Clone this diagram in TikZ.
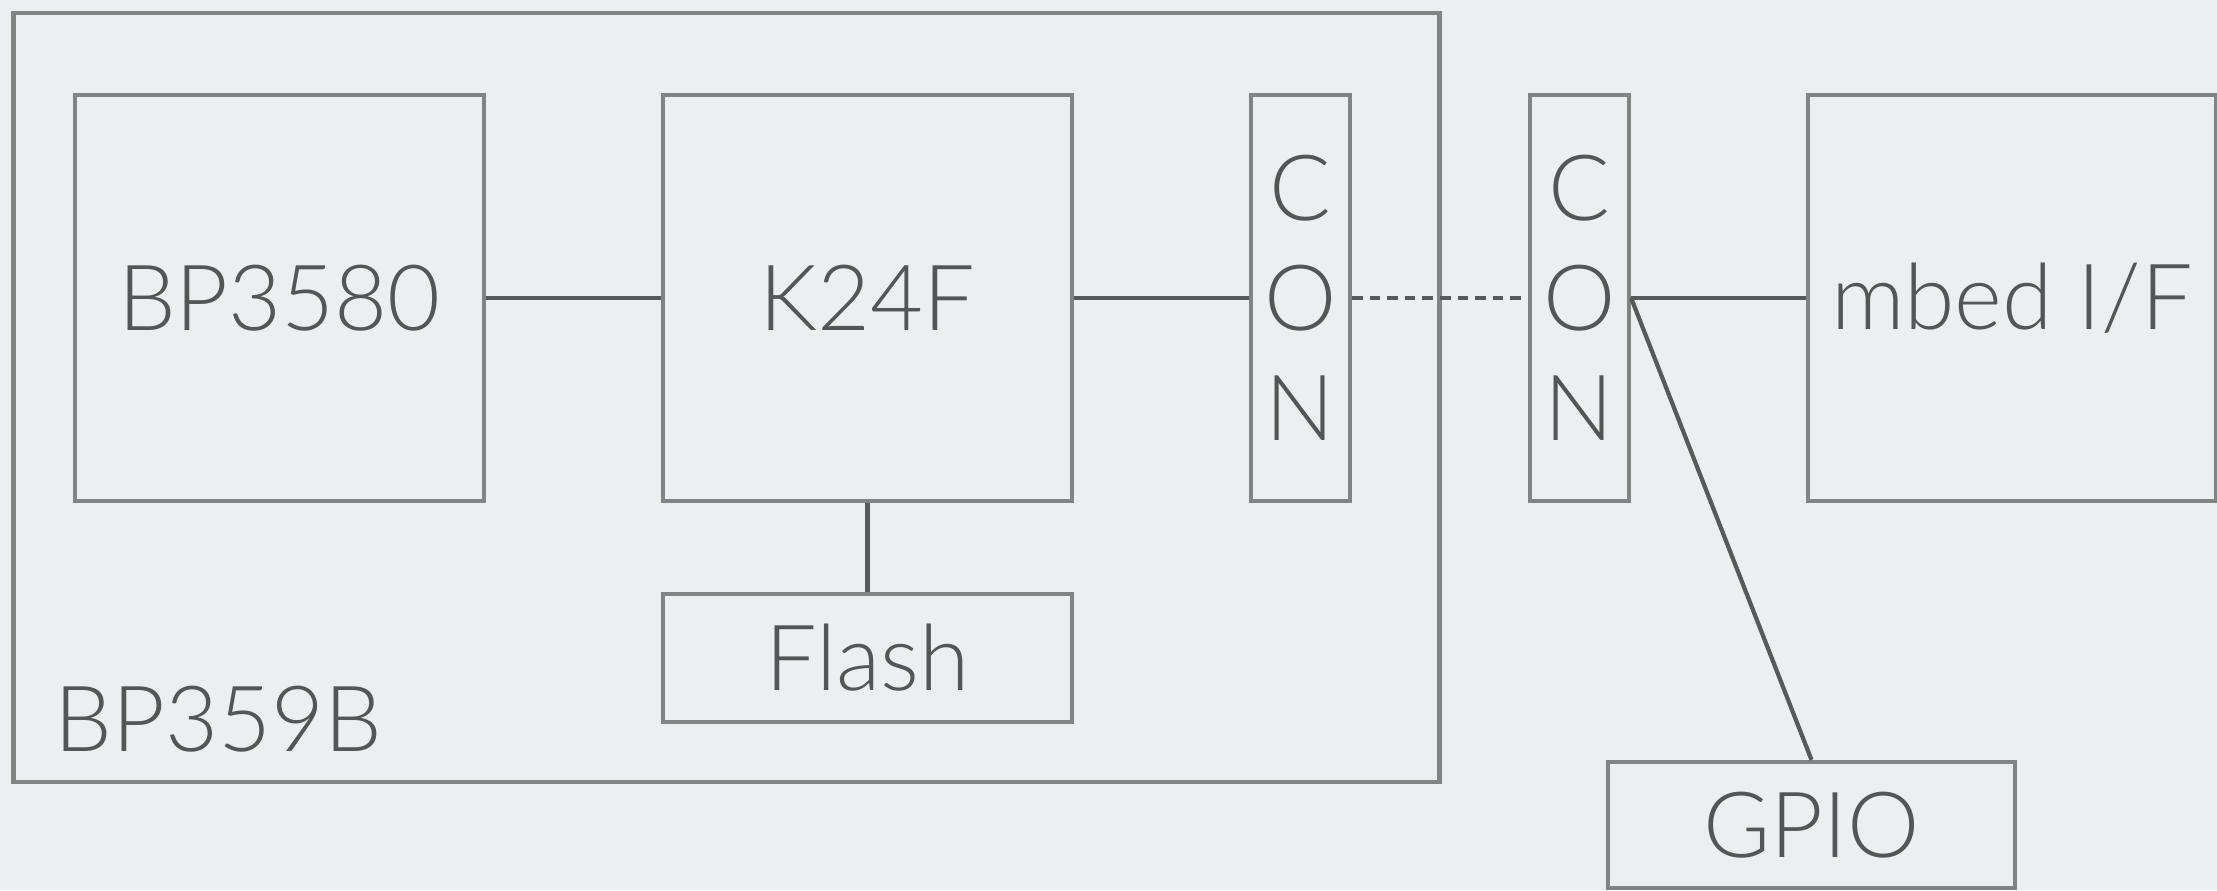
\documentclass[tikz,border=0pt]{standalone}
\usepackage{fontspec}
\setmainfont{Lato Light}
\usepackage{tikz}
\usepackage{xcolor}

\definecolor{bggray}{RGB}{236,238,241}
\definecolor{boxgray}{RGB}{128,133,131}
\definecolor{linegray}{RGB}{88,90,90}
\definecolor{textgray}{RGB}{85,85,85}

\tikzset{
  blockbox/.style={draw=boxgray, line width=1.2pt, inner sep=0pt, text=textgray,
    font=\fontsize{26}{31.3}\selectfont, align=center},
  wire/.style={draw=linegray, line width=1.2pt},
}

\begin{document}
\begin{tikzpicture}[x=0.01cm, y=-0.01cm]
					% Background
					\fill[bggray] (0,0) rectangle (2217,890);
					\useasboundingbox (0,0) rectangle (2217,890);
					
					% Board outline
					\node[blockbox, minimum width=14.25cm, minimum height=7.69cm] (board) at (726.5,397.5) {};
					\node[anchor=base west, text=textgray, font=\fontsize{26}{31.3}\selectfont] (boardname) at (42,751) {BP359B};
					
					% Blocks
					\node[blockbox, minimum width=4.09cm, minimum height=4.06cm] (bp) at (279.5,298) {BP3580};
					\node[blockbox, minimum width=4.09cm, minimum height=4.06cm] (mcu) at (867.5,298) {K24F};
					\node[blockbox, minimum width=4.09cm, minimum height=1.28cm] (flash) at (867.5,658) {Flash};
					\node[blockbox, minimum width=0.99cm, minimum height=4.06cm] (conA) at (1300.5,298) {C\\O\\N};
					\node[blockbox, minimum width=0.99cm, minimum height=4.06cm] (conB) at (1579.5,298) {C\\O\\N};
					\node[blockbox, minimum width=4.08cm, minimum height=4.06cm] (mbed) at (2012,298) {mbed I/F};
					\node[blockbox, minimum width=4.07cm, minimum height=1.26cm] (gpio) at (1811.5,825) {GPIO};
					
					% Links
					\draw[wire] (bp) -- (mcu);
					\draw[wire] (mcu) -- (conA);
					\draw[wire] (mcu) -- (flash);
					\draw[wire, dash pattern=on 3pt off 2pt] (conA) -- (conB);
					\draw[wire] (conB) -- (mbed);
					\draw[wire] (conB.east) -- (gpio.north);
				\end{tikzpicture}
\end{document}
